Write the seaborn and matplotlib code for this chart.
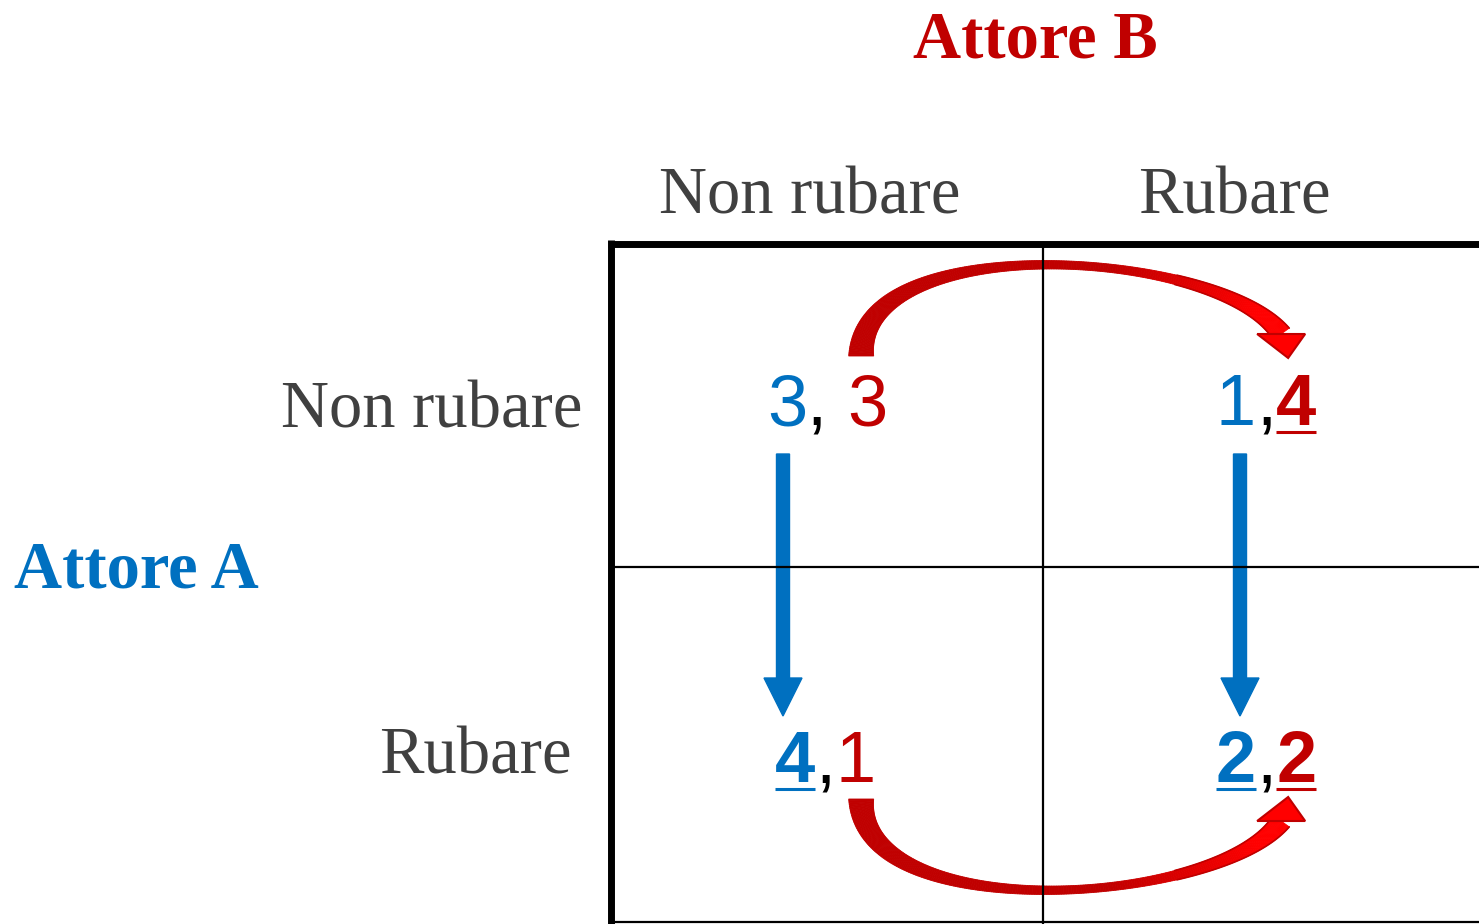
import numpy as np
import matplotlib.pyplot as plt
import seaborn as sns
from matplotlib.patches import Polygon
from matplotlib.colors import to_rgb

sns.set_theme(style="white")
plt.rcParams['font.family'] = ['Liberation Serif', 'DejaVu Serif']

# dati del gioco (matrice dei payoff)
giocatori = ["Attore A", "Attore B"]
strategie = ["Non rubare", "Rubare"]
payoff_a = [[3, 1], [4, 2]]
payoff_b = [[3, 4], [1, 2]]
separatori = [[", ", ","], [",", ","]]

blu, rosso, grigio = sns.color_palette(["#0070C0", "#C00000", "#404040"])
rosso_chiaro = to_rgb("#FF0000")

# geometria della figura (pixel)
W, H = 1479, 924
virgola_x = [[817, 1266], [825, 1266]]
base_y = [425, 782]
freccia_x = [783, 1240]
col_label_x = [810, 1234]
row_label_x = [582, 572]
row_label_y = [428, 773]

pa = np.array(payoff_a)
pb = np.array(payoff_b)
best_a = pa == pa.max(axis=0, keepdims=True)
best_b = pb == pb.max(axis=1, keepdims=True)

fig = plt.figure(figsize=(W / 100, H / 100), dpi=100)
ax = fig.add_axes([0, 0, 1, 1])
ax.set_xlim(0, W)
ax.set_ylim(H, 0)
ax.axis('off')

# griglia
ax.plot([608, W], [243.5, 243.5], lw=5, color='black', solid_capstyle='butt', zorder=5)
ax.plot([611, 611], [240, H], lw=5, color='black', solid_capstyle='butt', zorder=5)
ax.plot([1043, 1043], [243, H], lw=1.6, color='black', zorder=5)
ax.plot([611, W], [567, 567], lw=1.6, color='black', zorder=5)
ax.plot([611, W], [922, 922], lw=1.6, color='black', zorder=5)

# etichette
ax.text(1035, 58, giocatori[1], ha='center', va='baseline', fontsize=48,
        fontweight='bold', color=rosso)
ax.text(14, 587, giocatori[0], ha='left', va='baseline', fontsize=48,
        fontweight='bold', color=blu)
for j, s in enumerate(strategie):
    ax.text(col_label_x[j], 213, s, ha='center', va='baseline', fontsize=48, color=grigio)
for i, s in enumerate(strategie):
    ax.text(row_label_x[i], row_label_y[i], s, ha='right', va='baseline', fontsize=48, color=grigio)

# payoff
fs = 52
em = fs * 100 / 72
cifra = 0.556 * em
virg = 0.278 * em
red_centers = np.zeros((2, 2))
for i in range(2):
    for j in range(2):
        xc = virgola_x[i][j] - 10
        yb = base_y[i]
        ax.text(xc, yb, str(pa[i, j]), ha='right', va='baseline', fontsize=fs,
                family='Liberation Sans', color=blu,
                fontweight='bold' if best_a[i, j] else 'normal')
        sep = separatori[i][j]
        ax.text(xc, yb, sep, ha='left', va='baseline', fontsize=fs,
                family='Liberation Sans', color='black')
        xr = xc + virg * len(sep)
        ax.text(xr, yb, str(pb[i, j]), ha='left', va='baseline', fontsize=fs,
                family='Liberation Sans', color=rosso,
                fontweight='bold' if best_b[i, j] else 'normal')
        red_centers[i, j] = xr + cifra / 2
        if best_a[i, j]:
            ax.plot([xc - cifra, xc], [yb + 7, yb + 7], lw=2.2, color=blu, solid_capstyle='butt')
        if best_b[i, j]:
            ax.plot([xr, xr + cifra], [yb + 7, yb + 7], lw=2.2, color=rosso, solid_capstyle='butt')

# frecce di Attore A (verticali)
for j in range(2):
    i0, i1 = np.argmin(pa[:, j]), np.argmax(pa[:, j])
    y0 = base_y[i0] + 29
    y1 = base_y[i1] - 66
    ax.arrow(freccia_x[j], y0, 0, y1 - y0, width=13, head_width=38, head_length=38,
             length_includes_head=True, color=blu, zorder=3)


# frecce di Attore B (curve, con sfumatura verso la punta)
def freccia_curva(ax, x0, x1, yc, s):
    P = np.array([[x0, yc + s * 43], [x0, yc + s * 172],
                  [x1 - 62, yc + s * 150], [x1, yc + s * 65]], dtype=float)
    t = np.linspace(0, 1, 240)[:, None]
    B = ((1 - t) ** 3 * P[0] + 3 * (1 - t) ** 2 * t * P[1]
         + 3 * (1 - t) * t ** 2 * P[2] + t ** 3 * P[3])
    dB = (3 * (1 - t) ** 2 * (P[1] - P[0]) + 6 * (1 - t) * t * (P[2] - P[1])
          + 3 * t ** 2 * (P[3] - P[2]))
    u = dB / np.linalg.norm(dB, axis=1, keepdims=True)
    n = np.column_stack([-u[:, 1], u[:, 0]])
    w = 5 + 20 * (1 - t) ** 3 + 15 * t ** 4
    left = B + n * w / 2
    right = B - n * w / 2
    tt = t[:, 0]
    c0, c1 = np.array(rosso), np.array(rosso_chiaro)
    for k in range(len(tt) - 1):
        f = np.clip((tt[k] - 0.6) / 0.3, 0, 1)
        col = tuple(c0 * (1 - f) + c1 * f)
        quad = np.array([left[k], left[k + 1], right[k + 1], right[k]])
        ax.add_patch(Polygon(quad, closed=True, facecolor=col, edgecolor=col,
                             lw=0.6, zorder=3))
    m = tt > 0.72
    ax.plot(left[m, 0], left[m, 1], color=rosso, lw=1.2, zorder=3.5)
    ax.plot(right[m, 0], right[m, 1], color=rosso, lw=1.2, zorder=3.5)
    testa = np.array([P[3] + [-24, 0], P[3] + [7, -s * 24], P[3] + [24, 0]])
    ax.add_patch(Polygon(testa, closed=True, facecolor=rosso_chiaro,
                         edgecolor=rosso, lw=1.5, zorder=4))


for i in range(2):
    j0, j1 = np.argmin(pb[i]), np.argmax(pb[i])
    s = -1 if i == 0 else 1
    freccia_curva(ax, red_centers[:, j0].mean(), red_centers[i, j1] - 15, base_y[i] - 26, s)

fig.savefig('out.png', dpi=100)
